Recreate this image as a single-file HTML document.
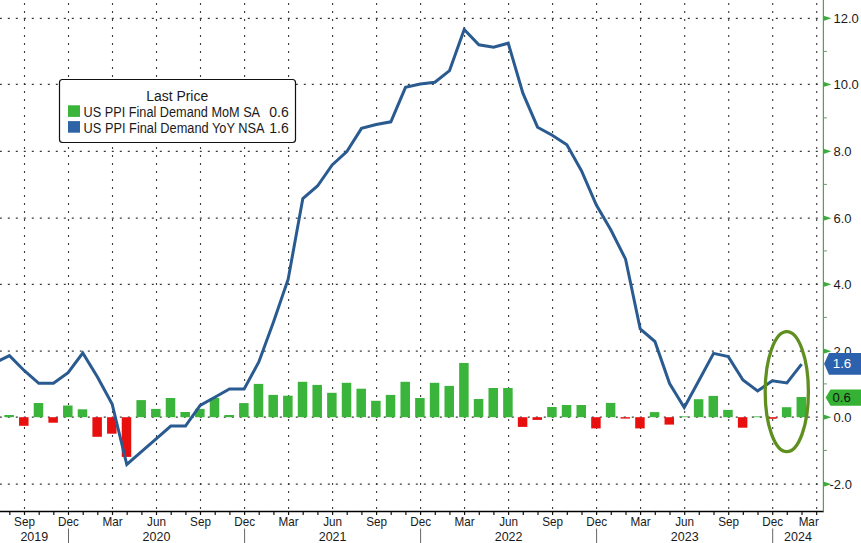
<!DOCTYPE html><html><head><meta charset="utf-8"><style>html,body{margin:0;padding:0;background:#fff;width:861px;height:543px;overflow:hidden}svg{display:block}text{font-family:"Liberation Sans",sans-serif}</style></head><body>
<svg width="861" height="543" viewBox="0 0 861 543">
<rect width="861" height="543" fill="#fff"/>
<g stroke="#3a3a3a" stroke-width="1.2" fill="none">
<line x1="0" y1="18.3" x2="823.4" y2="18.3" stroke-dasharray="2 6" stroke-dashoffset="0.2"/>
<line x1="0" y1="84.4" x2="823.4" y2="84.4" stroke-dasharray="2 6" stroke-dashoffset="0.2"/>
<line x1="0" y1="151.3" x2="823.4" y2="151.3" stroke-dasharray="2 6" stroke-dashoffset="0.2"/>
<line x1="0" y1="218.2" x2="823.4" y2="218.2" stroke-dasharray="2 6" stroke-dashoffset="0.2"/>
<line x1="0" y1="284.3" x2="823.4" y2="284.3" stroke-dasharray="2 6" stroke-dashoffset="0.2"/>
<line x1="0" y1="351.2" x2="823.4" y2="351.2" stroke-dasharray="2 6" stroke-dashoffset="0.2"/>
<line x1="0" y1="417.2" x2="823.4" y2="417.2" stroke-dasharray="2 6" stroke-dashoffset="0.2"/>
<line x1="0" y1="484.2" x2="823.4" y2="484.2" stroke-dasharray="2 6" stroke-dashoffset="0.2"/>
<line x1="24.5" y1="0" x2="24.5" y2="511" stroke-width="1.1" stroke-dasharray="2 6" stroke-dashoffset="-2.9"/>
<line x1="68.5" y1="0" x2="68.5" y2="511" stroke-width="1.1" stroke-dasharray="2 6" stroke-dashoffset="-2.9"/>
<line x1="112.5" y1="0" x2="112.5" y2="511" stroke-width="1.1" stroke-dasharray="2 6" stroke-dashoffset="-2.9"/>
<line x1="156.5" y1="0" x2="156.5" y2="511" stroke-width="1.1" stroke-dasharray="2 6" stroke-dashoffset="-2.9"/>
<line x1="200.5" y1="0" x2="200.5" y2="511" stroke-width="1.1" stroke-dasharray="2 6" stroke-dashoffset="-2.9"/>
<line x1="244.6" y1="0" x2="244.6" y2="511" stroke-width="1.1" stroke-dasharray="2 6" stroke-dashoffset="-2.9"/>
<line x1="288.6" y1="0" x2="288.6" y2="511" stroke-width="1.1" stroke-dasharray="2 6" stroke-dashoffset="-2.9"/>
<line x1="332.6" y1="0" x2="332.6" y2="511" stroke-width="1.1" stroke-dasharray="2 6" stroke-dashoffset="-2.9"/>
<line x1="376.6" y1="0" x2="376.6" y2="511" stroke-width="1.1" stroke-dasharray="2 6" stroke-dashoffset="-2.9"/>
<line x1="420.6" y1="0" x2="420.6" y2="511" stroke-width="1.1" stroke-dasharray="2 6" stroke-dashoffset="-2.9"/>
<line x1="464.6" y1="0" x2="464.6" y2="511" stroke-width="1.1" stroke-dasharray="2 6" stroke-dashoffset="-2.9"/>
<line x1="508.6" y1="0" x2="508.6" y2="511" stroke-width="1.1" stroke-dasharray="2 6" stroke-dashoffset="-2.9"/>
<line x1="552.6" y1="0" x2="552.6" y2="511" stroke-width="1.1" stroke-dasharray="2 6" stroke-dashoffset="-2.9"/>
<line x1="596.6" y1="0" x2="596.6" y2="511" stroke-width="1.1" stroke-dasharray="2 6" stroke-dashoffset="-2.9"/>
<line x1="640.6" y1="0" x2="640.6" y2="511" stroke-width="1.1" stroke-dasharray="2 6" stroke-dashoffset="-2.9"/>
<line x1="684.7" y1="0" x2="684.7" y2="511" stroke-width="1.1" stroke-dasharray="2 6" stroke-dashoffset="-2.9"/>
<line x1="728.7" y1="0" x2="728.7" y2="511" stroke-width="1.1" stroke-dasharray="2 6" stroke-dashoffset="-2.9"/>
<line x1="772.7" y1="0" x2="772.7" y2="511" stroke-width="1.1" stroke-dasharray="2 6" stroke-dashoffset="-2.9"/>
<line x1="816.7" y1="0" x2="816.7" y2="511" stroke-width="1.1" stroke-dasharray="2 6" stroke-dashoffset="-2.9"/>
</g>
<rect x="4.38" y="415" width="9.5" height="2.20" fill="#3ab43a"/>
<rect x="19.05" y="417.2" width="9.5" height="8.60" fill="#e8100f"/>
<rect x="33.72" y="403" width="9.5" height="14.20" fill="#3ab43a"/>
<rect x="48.39" y="417.2" width="9.5" height="5.50" fill="#e8100f"/>
<rect x="63.06" y="405.5" width="9.5" height="11.70" fill="#3ab43a"/>
<rect x="77.73" y="409.3" width="9.5" height="7.90" fill="#3ab43a"/>
<rect x="92.40" y="417.2" width="9.5" height="19.60" fill="#e8100f"/>
<rect x="107.07" y="417.2" width="9.5" height="16.50" fill="#e8100f"/>
<rect x="121.74" y="417.2" width="9.5" height="39.70" fill="#e8100f"/>
<rect x="136.41" y="400.1" width="9.5" height="17.10" fill="#3ab43a"/>
<rect x="151.08" y="408.9" width="9.5" height="8.30" fill="#3ab43a"/>
<rect x="165.75" y="398" width="9.5" height="19.20" fill="#3ab43a"/>
<rect x="180.42" y="412" width="9.5" height="5.20" fill="#3ab43a"/>
<rect x="195.09" y="408.9" width="9.5" height="8.30" fill="#3ab43a"/>
<rect x="209.76" y="398" width="9.5" height="19.20" fill="#3ab43a"/>
<rect x="224.43" y="415" width="9.5" height="2.20" fill="#3ab43a"/>
<rect x="239.10" y="403.1" width="9.5" height="14.10" fill="#3ab43a"/>
<rect x="253.77" y="383.9" width="9.5" height="33.30" fill="#3ab43a"/>
<rect x="268.44" y="394.9" width="9.5" height="22.30" fill="#3ab43a"/>
<rect x="283.11" y="395.7" width="9.5" height="21.50" fill="#3ab43a"/>
<rect x="297.78" y="381.8" width="9.5" height="35.40" fill="#3ab43a"/>
<rect x="312.45" y="384.9" width="9.5" height="32.30" fill="#3ab43a"/>
<rect x="327.12" y="392.8" width="9.5" height="24.40" fill="#3ab43a"/>
<rect x="341.79" y="382.8" width="9.5" height="34.40" fill="#3ab43a"/>
<rect x="356.46" y="388.7" width="9.5" height="28.50" fill="#3ab43a"/>
<rect x="371.13" y="400.8" width="9.5" height="16.40" fill="#3ab43a"/>
<rect x="385.80" y="394.9" width="9.5" height="22.30" fill="#3ab43a"/>
<rect x="400.47" y="381.8" width="9.5" height="35.40" fill="#3ab43a"/>
<rect x="415.14" y="398" width="9.5" height="19.20" fill="#3ab43a"/>
<rect x="429.81" y="382.8" width="9.5" height="34.40" fill="#3ab43a"/>
<rect x="444.48" y="385.9" width="9.5" height="31.30" fill="#3ab43a"/>
<rect x="459.15" y="363" width="9.5" height="54.20" fill="#3ab43a"/>
<rect x="473.82" y="399" width="9.5" height="18.20" fill="#3ab43a"/>
<rect x="488.49" y="388" width="9.5" height="29.20" fill="#3ab43a"/>
<rect x="503.16" y="388" width="9.5" height="29.20" fill="#3ab43a"/>
<rect x="517.83" y="417.2" width="9.5" height="9.70" fill="#e8100f"/>
<rect x="532.50" y="417.2" width="9.5" height="2.70" fill="#e8100f"/>
<rect x="547.17" y="407" width="9.5" height="10.20" fill="#3ab43a"/>
<rect x="561.84" y="405" width="9.5" height="12.20" fill="#3ab43a"/>
<rect x="576.51" y="405" width="9.5" height="12.20" fill="#3ab43a"/>
<rect x="591.18" y="417.2" width="9.5" height="11.20" fill="#e8100f"/>
<rect x="605.85" y="402.9" width="9.5" height="14.30" fill="#3ab43a"/>
<rect x="620.52" y="417.2" width="9.5" height="1.40" fill="#e8100f"/>
<rect x="635.19" y="417.2" width="9.5" height="11.20" fill="#e8100f"/>
<rect x="649.86" y="412.1" width="9.5" height="5.10" fill="#3ab43a"/>
<rect x="664.53" y="417.2" width="9.5" height="7.40" fill="#e8100f"/>
<rect x="679.20" y="416.4" width="9.5" height="0.80" fill="#3ab43a"/>
<rect x="693.87" y="399.2" width="9.5" height="18.00" fill="#3ab43a"/>
<rect x="708.54" y="395.9" width="9.5" height="21.30" fill="#3ab43a"/>
<rect x="723.21" y="409.9" width="9.5" height="7.30" fill="#3ab43a"/>
<rect x="737.88" y="417.2" width="9.5" height="10.50" fill="#e8100f"/>
<rect x="752.55" y="416.4" width="9.5" height="0.80" fill="#3ab43a"/>
<rect x="767.22" y="417.2" width="9.5" height="1.60" fill="#e8100f"/>
<rect x="781.89" y="407.2" width="9.5" height="10.00" fill="#3ab43a"/>
<rect x="796.56" y="397" width="9.5" height="20.20" fill="#3ab43a"/>
<path d="M-5.24,362.80 L9.43,355.60 L24.10,370.50 L38.77,383.30 L53.44,383.30 L68.11,372.60 L82.78,353.00 L97.45,377.00 L112.12,404.00 L126.79,464.50 L141.46,451.67 L156.13,438.83 L170.80,426.00 L185.47,426.00 L200.14,405.50 L214.81,397.25 L229.48,389.00 L244.15,389.00 L258.82,362.00 L273.49,322.00 L288.16,279.20 L302.83,198.50 L317.50,186.00 L332.17,165.00 L346.84,151.60 L361.51,128.40 L376.18,124.50 L390.85,121.80 L405.52,87.30 L420.19,84.00 L434.86,82.20 L449.53,70.60 L464.20,29.50 L478.87,44.80 L493.54,47.30 L508.21,43.20 L522.88,93.20 L537.55,127.20 L552.22,135.20 L566.89,144.80 L581.56,171.00 L596.23,204.80 L610.90,230.00 L625.57,259.20 L640.24,329.00 L654.91,341.50 L669.58,383.50 L684.25,407.50 L698.92,380.45 L713.59,353.40 L728.26,356.60 L742.93,380.00 L757.60,391.00 L772.27,380.80 L786.94,383.00 L801.61,364.20" fill="none" stroke="#2a5b90" stroke-width="3.0" stroke-linejoin="miter" stroke-miterlimit="4"/>
<ellipse cx="786.8" cy="391.7" rx="21.6" ry="60" fill="none" stroke="#5f8f1f" stroke-width="3.3"/>
<line x1="0" y1="511.5" x2="824" y2="511.5" stroke="#000" stroke-width="1.4"/>
<g stroke="#111" stroke-width="1.2">
<line x1="9.8" y1="511.5" x2="9.8" y2="515"/>
<line x1="24.5" y1="511.5" x2="24.5" y2="515"/>
<line x1="39.2" y1="511.5" x2="39.2" y2="515"/>
<line x1="53.8" y1="511.5" x2="53.8" y2="515"/>
<line x1="68.5" y1="511.5" x2="68.5" y2="515"/>
<line x1="83.2" y1="511.5" x2="83.2" y2="515"/>
<line x1="97.8" y1="511.5" x2="97.8" y2="515"/>
<line x1="112.5" y1="511.5" x2="112.5" y2="515"/>
<line x1="127.2" y1="511.5" x2="127.2" y2="515"/>
<line x1="141.9" y1="511.5" x2="141.9" y2="515"/>
<line x1="156.5" y1="511.5" x2="156.5" y2="515"/>
<line x1="171.2" y1="511.5" x2="171.2" y2="515"/>
<line x1="185.9" y1="511.5" x2="185.9" y2="515"/>
<line x1="200.5" y1="511.5" x2="200.5" y2="515"/>
<line x1="215.2" y1="511.5" x2="215.2" y2="515"/>
<line x1="229.9" y1="511.5" x2="229.9" y2="515"/>
<line x1="244.6" y1="511.5" x2="244.6" y2="515"/>
<line x1="259.2" y1="511.5" x2="259.2" y2="515"/>
<line x1="273.9" y1="511.5" x2="273.9" y2="515"/>
<line x1="288.6" y1="511.5" x2="288.6" y2="515"/>
<line x1="303.2" y1="511.5" x2="303.2" y2="515"/>
<line x1="317.9" y1="511.5" x2="317.9" y2="515"/>
<line x1="332.6" y1="511.5" x2="332.6" y2="515"/>
<line x1="347.2" y1="511.5" x2="347.2" y2="515"/>
<line x1="361.9" y1="511.5" x2="361.9" y2="515"/>
<line x1="376.6" y1="511.5" x2="376.6" y2="515"/>
<line x1="391.2" y1="511.5" x2="391.2" y2="515"/>
<line x1="405.9" y1="511.5" x2="405.9" y2="515"/>
<line x1="420.6" y1="511.5" x2="420.6" y2="515"/>
<line x1="435.3" y1="511.5" x2="435.3" y2="515"/>
<line x1="449.9" y1="511.5" x2="449.9" y2="515"/>
<line x1="464.6" y1="511.5" x2="464.6" y2="515"/>
<line x1="479.3" y1="511.5" x2="479.3" y2="515"/>
<line x1="493.9" y1="511.5" x2="493.9" y2="515"/>
<line x1="508.6" y1="511.5" x2="508.6" y2="515"/>
<line x1="523.3" y1="511.5" x2="523.3" y2="515"/>
<line x1="538.0" y1="511.5" x2="538.0" y2="515"/>
<line x1="552.6" y1="511.5" x2="552.6" y2="515"/>
<line x1="567.3" y1="511.5" x2="567.3" y2="515"/>
<line x1="582.0" y1="511.5" x2="582.0" y2="515"/>
<line x1="596.6" y1="511.5" x2="596.6" y2="515"/>
<line x1="611.3" y1="511.5" x2="611.3" y2="515"/>
<line x1="626.0" y1="511.5" x2="626.0" y2="515"/>
<line x1="640.6" y1="511.5" x2="640.6" y2="515"/>
<line x1="655.3" y1="511.5" x2="655.3" y2="515"/>
<line x1="670.0" y1="511.5" x2="670.0" y2="515"/>
<line x1="684.7" y1="511.5" x2="684.7" y2="515"/>
<line x1="699.3" y1="511.5" x2="699.3" y2="515"/>
<line x1="714.0" y1="511.5" x2="714.0" y2="515"/>
<line x1="728.7" y1="511.5" x2="728.7" y2="515"/>
<line x1="743.3" y1="511.5" x2="743.3" y2="515"/>
<line x1="758.0" y1="511.5" x2="758.0" y2="515"/>
<line x1="772.7" y1="511.5" x2="772.7" y2="515"/>
<line x1="787.3" y1="511.5" x2="787.3" y2="515"/>
<line x1="802.0" y1="511.5" x2="802.0" y2="515"/>
<line x1="816.7" y1="511.5" x2="816.7" y2="515"/>
</g>
<g stroke="#666" stroke-width="1">
<line x1="68.5" y1="528.5" x2="68.5" y2="543"/>
<line x1="244.6" y1="528.5" x2="244.6" y2="543"/>
<line x1="420.6" y1="528.5" x2="420.6" y2="543"/>
<line x1="596.6" y1="528.5" x2="596.6" y2="543"/>
<line x1="772.7" y1="528.5" x2="772.7" y2="543"/>
</g>
<g font-size="13" fill="#1a1a1a" text-anchor="middle">
<text transform="translate(24.5,525.8) scale(0.9,1)">Sep</text>
<text transform="translate(68.5,525.8) scale(0.9,1)">Dec</text>
<text transform="translate(112.5,525.8) scale(0.9,1)">Mar</text>
<text transform="translate(156.5,525.8) scale(0.9,1)">Jun</text>
<text transform="translate(200.5,525.8) scale(0.9,1)">Sep</text>
<text transform="translate(244.6,525.8) scale(0.9,1)">Dec</text>
<text transform="translate(288.6,525.8) scale(0.9,1)">Mar</text>
<text transform="translate(332.6,525.8) scale(0.9,1)">Jun</text>
<text transform="translate(376.6,525.8) scale(0.9,1)">Sep</text>
<text transform="translate(420.6,525.8) scale(0.9,1)">Dec</text>
<text transform="translate(464.6,525.8) scale(0.9,1)">Mar</text>
<text transform="translate(508.6,525.8) scale(0.9,1)">Jun</text>
<text transform="translate(552.6,525.8) scale(0.9,1)">Sep</text>
<text transform="translate(596.6,525.8) scale(0.9,1)">Dec</text>
<text transform="translate(640.6,525.8) scale(0.9,1)">Mar</text>
<text transform="translate(684.7,525.8) scale(0.9,1)">Jun</text>
<text transform="translate(728.7,525.8) scale(0.9,1)">Sep</text>
<text transform="translate(772.7,525.8) scale(0.9,1)">Dec</text>
<text transform="translate(808.7,525.8) scale(0.9,1)">Mar</text>
<text transform="translate(34.3,541.4) scale(0.96,1)">2019</text>
<text transform="translate(156.5,541.4) scale(0.96,1)">2020</text>
<text transform="translate(332.6,541.4) scale(0.96,1)">2021</text>
<text transform="translate(508.6,541.4) scale(0.96,1)">2022</text>
<text transform="translate(684.7,541.4) scale(0.96,1)">2023</text>
<text transform="translate(798.0,541.4) scale(0.96,1)">2024</text>
</g>
<line x1="823.4" y1="0" x2="823.4" y2="511.7" stroke="#4fa24f" stroke-width="1.2"/>
<g fill="#3daa3d">
<path d="M823.4,15.700000000000001 L831.4,18.3 L823.4,20.900000000000002 Z"/>
<path d="M823.4,81.80000000000001 L831.4,84.4 L823.4,87.0 Z"/>
<path d="M823.4,148.70000000000002 L831.4,151.3 L823.4,153.9 Z"/>
<path d="M823.4,215.6 L831.4,218.2 L823.4,220.79999999999998 Z"/>
<path d="M823.4,281.7 L831.4,284.3 L823.4,286.90000000000003 Z"/>
<path d="M823.4,348.59999999999997 L831.4,351.2 L823.4,353.8 Z"/>
<path d="M823.4,414.59999999999997 L831.4,417.2 L823.4,419.8 Z"/>
<path d="M823.4,481.59999999999997 L831.4,484.2 L823.4,486.8 Z"/>
</g>
<g stroke="#6a9a6a" stroke-width="1">
<line x1="823.4" y1="51.4" x2="826.9" y2="51.4"/>
<line x1="823.4" y1="117.9" x2="826.9" y2="117.9"/>
<line x1="823.4" y1="184.4" x2="826.9" y2="184.4"/>
<line x1="823.4" y1="250.9" x2="826.9" y2="250.9"/>
<line x1="823.4" y1="317.4" x2="826.9" y2="317.4"/>
<line x1="823.4" y1="383.9" x2="826.9" y2="383.9"/>
<line x1="823.4" y1="450.4" x2="826.9" y2="450.4"/>
</g>
<g font-size="13" fill="#1a1a1a">
<text x="833.5" y="22.9">12.0</text>
<text x="833.5" y="89.0">10.0</text>
<text x="833.5" y="155.9">8.0</text>
<text x="833.5" y="222.8">6.0</text>
<text x="833.5" y="288.9">4.0</text>
<text x="833.5" y="355.8">2.0</text>
<text x="833.5" y="421.8">0.0</text>
<text x="829.5" y="488.8">-2.0</text>
</g>
<path d="M824.1,363.8 L829,353 L861,353 L861,374.7 L829,374.7 Z" fill="#2c62ad"/>
<text x="832.7" y="368.3" font-size="13.4" fill="#fff">1.6</text>
<path d="M825.6,397.6 L830.5,389.4 L861,389.4 L861,405.7 L830.5,405.7 Z" fill="#35b134"/>
<text x="832.5" y="402.2" font-size="13.2" fill="#111">0.6</text>
<rect x="59.5" y="79.5" width="236" height="63" rx="3" ry="3" fill="#fff" stroke="#111" stroke-width="1.2"/>
<g font-size="14" fill="#1a1a1a">
<text x="177.2" y="100.7" text-anchor="middle" textLength="62" lengthAdjust="spacingAndGlyphs">Last Price</text>
<rect x="68" y="105.3" width="12" height="11.6" fill="#3ab43a" stroke="none"/>
<rect x="68" y="121.1" width="12" height="11.6" fill="#2e64a6" stroke="none"/>
<text x="83.6" y="116.8" textLength="176.5" lengthAdjust="spacingAndGlyphs">US PPI Final Demand MoM SA</text>
<text x="83.6" y="132.6" textLength="181" lengthAdjust="spacingAndGlyphs">US PPI Final Demand YoY NSA</text>
<text x="288.8" y="116.8" text-anchor="end">0.6</text>
<text x="288.8" y="132.6" text-anchor="end">1.6</text>
</g>
</svg></body></html>
